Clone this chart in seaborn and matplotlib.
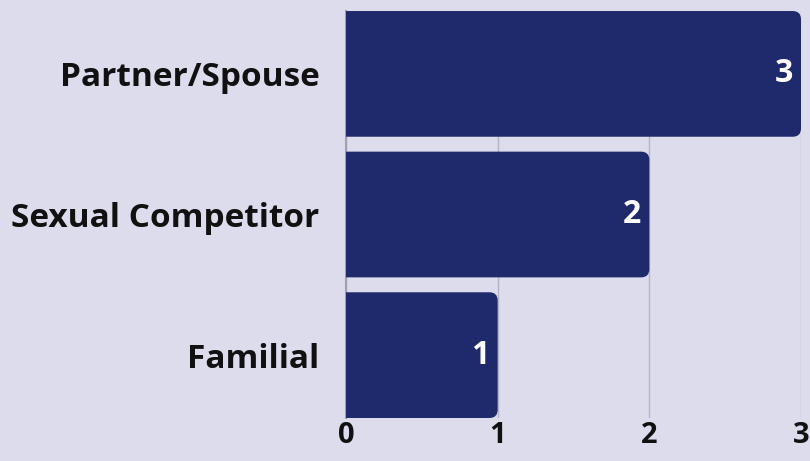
import matplotlib
matplotlib.use("Agg")
from matplotlib import pyplot as plt
from matplotlib.patches import FancyBboxPatch
import seaborn as sns
import pandas as pd

categories = ["Partner/Spouse", "Sexual Competitor", "Familial"]
counts = [3, 2, 1]
x_ticks = [0, 1, 2, 3]

bg = "#dcdcec"
bar_color = "#1e2a6b"
text_color = "#111111"

sns.set_style("white")
plt.rcParams["font.family"] = ["Open Sans", "DejaVu Sans"]

df = pd.DataFrame({"category": categories, "count": counts})

fig = plt.figure(figsize=(8.1, 4.61), dpi=100)
fig.patch.set_facecolor(bg)
ax = fig.add_axes([0.4272, 0.0933, 0.5617, 0.8828])
ax.set_facecolor(bg)

sns.barplot(data=df, x="count", y="category", color=bar_color, width=0.894,
            saturation=1, ax=ax, zorder=3)

ax.set_xlim(0, 3)
ax.set_ylim(2.447, -0.447)

# swap plain bars for ones with rounded ends
for p in list(ax.patches):
    x0, y0 = p.get_x(), p.get_y()
    w, h = p.get_width(), p.get_height()
    p.remove()
    box = FancyBboxPatch((x0 - 0.2, y0), w + 0.2, h,
                         boxstyle="round,pad=0,rounding_size=0.055",
                         mutation_aspect=1.07, facecolor=bar_color,
                         edgecolor="none", zorder=3)
    ax.add_patch(box)

for i, v in enumerate(counts):
    ax.annotate(str(v), (v, i), xytext=(-6, 0), textcoords="offset points",
                ha="right", va="center", color="white", fontsize=23,
                fontweight="bold", zorder=4)

ax.set_xticks(x_ticks)
ax.set_xticklabels([str(t) for t in x_ticks], fontsize=21, fontweight="bold",
                   color=text_color)
ax.set_yticks(range(len(categories)))
ax.set_yticklabels(categories, fontsize=24, fontweight="bold", color=text_color)
ax.tick_params(axis="y", length=0, pad=19)
ax.tick_params(axis="x", length=0, pad=2)
ax.set_xlabel("")
ax.set_ylabel("")

ax.grid(axis="x", color="#b4b4c4", linewidth=1, zorder=0)
ax.set_axisbelow(True)
for s in ["top", "right", "bottom"]:
    ax.spines[s].set_visible(False)
ax.spines["left"].set_color("#a0a0b0")
ax.spines["left"].set_linewidth(1.5)
ax.spines["left"].set_zorder(2)

plt.savefig("out.png", dpi=100, facecolor=bg)
